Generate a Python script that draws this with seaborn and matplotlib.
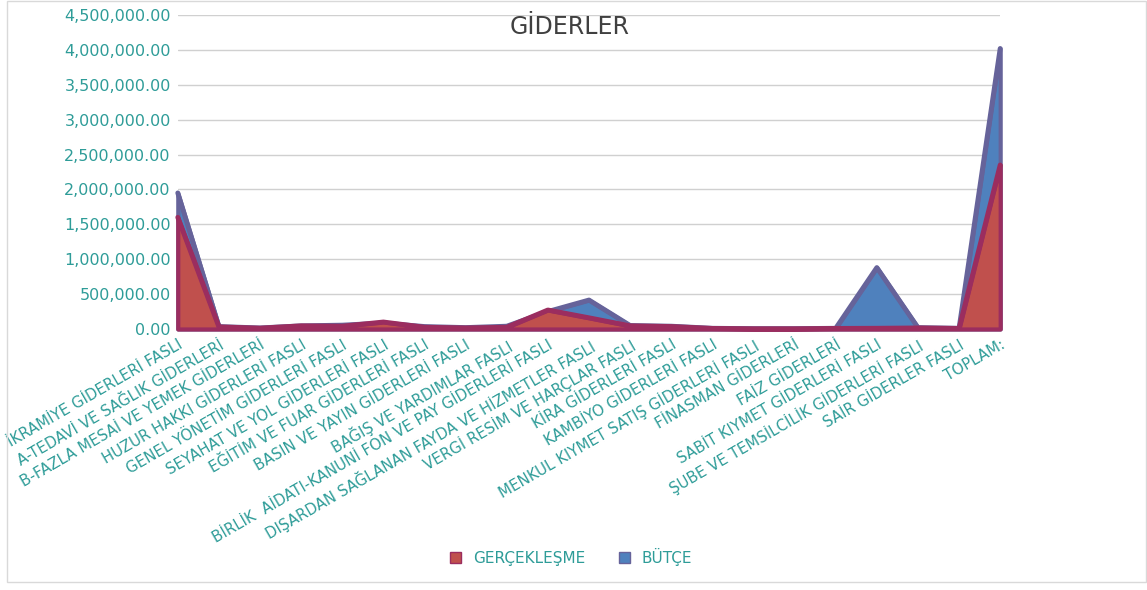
import matplotlib
matplotlib.use("Agg")
import matplotlib.pyplot as plt
import seaborn as sns
import pandas as pd
from matplotlib.patches import Patch, Rectangle
from matplotlib.ticker import FuncFormatter

CATEGORIES = [
    "İKRAMİYE GİDERLERİ FASLI",
    "A-TEDAVİ VE SAĞLIK GİDERLERİ",
    "B-FAZLA MESAİ VE YEMEK GİDERLERİ",
    "HUZUR HAKKI GİDERLERİ FASLI",
    "GENEL YÖNETİM GİDERLERİ FASLI",
    "SEYAHAT VE YOL GİDERLERİ FASLI",
    "EĞİTİM VE FUAR GİDERLERİ FASLI",
    "BASIN VE YAYIN GİDERLERİ FASLI",
    "BAĞIŞ VE YARDIMLAR FASLI",
    "BİRLİK  AİDATI-KANUNİ FON VE PAY GİDERLERİ FASLI",
    "DIŞARDAN SAĞLANAN FAYDA VE HİZMETLER FASLI",
    "VERGİ RESİM VE HARÇLAR FASLI",
    "KİRA GİDERLERİ FASLI",
    "KAMBİYO GİDERLERİ FASLI",
    "MENKUL KIYMET SATIŞ GİDERLERİ FASLI",
    "FİNASMAN GİDERLERİ",
    "FAİZ GİDERLERİ",
    "SABİT KIYMET GİDERLERİ FASLI",
    "ŞUBE VE TEMSİLCİLİK GİDERLERİ FASLI",
    "SAİR GİDERLER FASLI",
    "TOPLAM:",
]
BUTCE = [1950000, 35000, 15000, 45000, 55000, 85000, 35000, 20000, 40000, 250000,
         415000, 50000, 40000, 10000, 5000, 5000, 10000, 880000, 20000, 10000, 4020000]
GERCEKLESME = [1600000, 30000, 12000, 45000, 40000, 100000, 25000, 15000, 25000, 272000,
               160000, 45000, 35000, 8000, 3000, 3000, 8000, 10000, 15000, 8000, 2350000]

TEAL = "#2E9C98"

sns.set_theme(style="white")
plt.rcParams["font.family"] = ["DejaVu Sans"]

df = pd.DataFrame({"kalem": CATEGORIES, "BÜTÇE": BUTCE, "GERÇEKLEŞME": GERCEKLESME})
df["x"] = range(len(df))

fig = plt.figure(figsize=(11.47, 5.90), dpi=100)
ax = fig.add_axes([0.155, 0.4424, 0.717, 0.5322])

# blue behind, red in front (like the excel area chart)
series = [("BÜTÇE", "#4F81BD", "#66639A"), ("GERÇEKLEŞME", "#C0504D", "#9B2D5F")]
for i, (name, fill, edge) in enumerate(series):
    z = 2 + 2 * i
    ax.fill_between(df["x"], df[name], 0, facecolor=fill, edgecolor=edge,
                    linewidth=3, clip_on=False, zorder=z)
    sns.lineplot(data=df, x="x", y=name, color=edge, lw=3.5, ax=ax,
                 legend=False, zorder=z + 1, clip_on=False)

ax.set_xlim(0, len(df) - 1)
ax.set_ylim(0, 4500000)
ax.set_yticks(range(0, 4500001, 500000))
ax.yaxis.set_major_formatter(FuncFormatter(lambda v, p: f"{v:,.2f}"))
ax.yaxis.grid(True, color="#D0D0D0", lw=1)
ax.set_axisbelow(True)
for s in ax.spines.values():
    s.set_visible(False)

ax.set_xticks(df["x"])
ax.set_xticklabels(df["kalem"], rotation=30, ha="right", rotation_mode="anchor")
ax.tick_params(axis="x", colors=TEAL, labelsize=10.8, pad=6, length=0)
ax.tick_params(axis="y", colors=TEAL, labelsize=11.5, pad=5, length=0)
ax.set_xlabel("")
ax.set_ylabel("")

fig.text(0.497, 1 - 27 / 590, "GİDERLER", ha="center", va="center",
         fontsize=17, color="#404040")

handles = [Patch(facecolor="#C0504D", edgecolor="#9B2D5F"),
           Patch(facecolor="#4F81BD", edgecolor="#66639A")]
fig.legend(handles, ["GERÇEKLEŞME", "BÜTÇE"], loc="center", bbox_to_anchor=(0.498, 0.056),
           ncol=2, frameon=False, fontsize=11, labelcolor=TEAL,
           handlelength=0.7, handleheight=0.7, columnspacing=2.2)

fig.patches.append(Rectangle((7 / 1147, 8 / 590), 1 - 8 / 1147, 1 - 9 / 590,
                             transform=fig.transFigure, fill=False,
                             edgecolor="#D9D9D9", lw=1))

fig.savefig("out.png", dpi=100)
